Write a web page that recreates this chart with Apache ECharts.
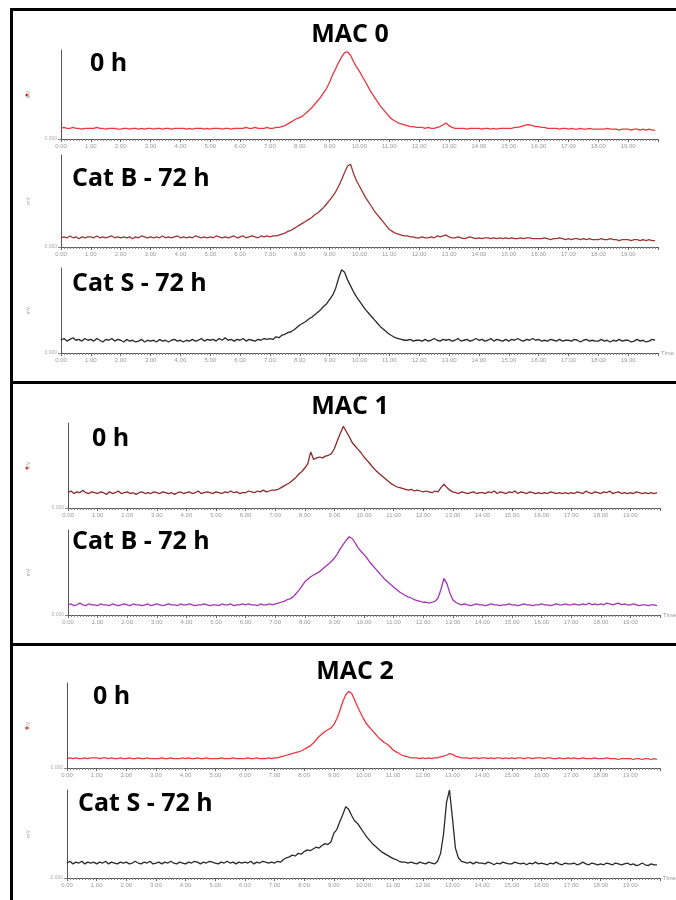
<!DOCTYPE html>
<html>
<head>
<meta charset="utf-8">
<script src="https://cdn.jsdelivr.net/npm/echarts@6/dist/echarts.min.js"></script>
<style>
  html, body { margin: 0; padding: 0; background: #fff; }
  #chart { width: 676px; height: 900px; }
</style>
</head>
<body>
<div id="chart"></div>
<script>
// sampling step of the traces, minutes
var step = 0.1;
var xTicks = ['0.00','1.00','2.00','3.00','4.00','5.00','6.00','7.00','8.00','9.00',
  '10.00','11.00','12.00','13.00','14.00','15.00','16.00','17.00','18.00','19.00'];
var groupTitles = ['MAC 0', 'MAC 1', 'MAC 2'];
var panelLabels = ['0 h', 'Cat B - 72 h', 'Cat S - 72 h', '0 h', 'Cat B - 72 h', '0 h', 'Cat S - 72 h'];

// signal, % of panel height, one row per minute
var mac0_0h = [
  12,13,12,12,13,12,12,11,12,12, 12,12,13,12,12,11,12,12,12,11,
  11,12,12,11,12,12,11,12,11,12, 12,11,12,12,11,12,12,11,12,12,
  12,12,11,12,11,12,12,12,11,12, 11,12,12,12,11,12,12,11,12,12,
  12,12,13,12,12,13,12,12,12,13, 12,12,13,13,14,15,17,19,21,23,
  24,26,29,32,35,39,43,47,52,57, 64,72,79,86,92,97,98,94,87,81,
  76,70,64,58,52,47,42,37,33,29, 25,22,20,18,17,16,15,14,14,13,
  13,13,12,13,12,12,13,14,16,18, 15,13,12,12,12,12,11,12,12,12,
  12,11,12,12,11,12,11,12,12,12, 12,12,13,13,14,15,16,16,15,14,
  14,13,13,12,12,12,12,11,12,12, 11,12,11,11,12,11,11,12,11,11,
  11,11,11,12,11,11,11,10,11,11, 11,10,11,11,10,11,10,11,10,10
];
var mac0_catB = [
  10,11,10,12,10,11,9,11,10,11, 11,10,12,10,11,10,11,12,10,11,
  10,11,10,11,9,11,10,12,11,10, 11,10,11,10,12,10,11,10,11,12,
  10,11,10,11,10,12,11,10,11,10, 11,10,12,11,10,11,10,11,12,10,
  11,12,10,11,12,11,10,12,11,12, 11,12,12,13,14,15,17,18,20,22,
  24,26,28,30,32,35,37,40,43,47, 51,55,60,66,73,81,88,90,80,72,
  66,60,54,49,44,39,35,31,27,23, 19,17,15,14,13,12,12,11,11,10,
  10,11,10,10,11,10,12,11,12,13, 11,10,10,11,10,9,10,11,10,9,
  10,9,10,10,9,10,9,10,9,10, 9,10,9,9,10,9,10,10,9,9,
  9,9,10,9,8,9,9,10,9,8, 9,8,9,9,8,9,8,9,8,8,
  8,9,8,8,9,8,8,7,8,8, 8,7,8,8,7,8,7,8,7,7
];
var mac0_catS = [
  15,17,14,16,18,15,16,14,17,15, 16,14,17,15,13,16,15,17,14,16,
  15,13,16,14,15,13,14,16,13,15, 14,15,13,16,14,15,13,15,16,14,
  15,13,15,14,16,14,15,17,14,16, 15,16,14,17,15,18,15,16,14,16,
  15,17,14,16,15,14,16,15,17,16, 17,16,19,18,21,22,24,25,27,30,
  33,35,37,40,42,45,48,51,55,58, 63,68,76,88,98,95,86,79,72,66,
  61,56,51,47,43,39,35,31,28,25, 22,20,18,17,16,15,15,16,14,15,
  15,14,16,14,15,17,15,14,16,15, 16,14,15,17,14,15,16,14,15,17,
  15,16,14,15,17,14,16,15,14,16, 14,16,15,17,15,14,16,15,17,15,
  16,14,15,14,16,15,14,16,14,15, 15,14,16,15,13,15,16,14,15,14,
  14,16,14,15,13,15,14,16,14,15, 15,13,14,16,14,15,13,14,16,15
];
var mac1_0h = [
  18,20,17,19,18,21,18,17,19,18, 17,19,18,16,19,17,18,20,17,18,
  19,17,18,16,18,19,17,18,17,19, 18,17,19,18,17,18,16,18,19,17,
  18,19,17,18,20,17,18,19,18,17, 19,18,17,19,18,20,18,19,17,18,
  18,20,19,18,20,19,21,19,20,21, 21,22,24,26,28,30,33,36,40,43,
  47,52,66,57,59,60,59,61,62,64, 70,79,88,96,90,84,77,73,69,65,
  60,56,52,48,44,41,38,35,32,29, 27,25,24,23,22,21,22,20,21,20,
  19,20,19,18,20,19,24,28,24,21, 19,18,17,19,18,17,18,19,17,18,
  18,17,19,18,20,17,19,18,17,19, 18,20,17,19,18,17,19,18,17,18,
  17,18,17,19,18,17,18,17,18,17, 18,17,19,18,17,20,18,17,19,18,
  17,19,18,20,17,18,19,17,18,17, 18,17,19,18,17,18,17,18,17,18
];
var mac1_catB = [
  12,13,11,12,14,12,11,13,12,12, 11,13,12,12,11,13,12,11,12,13,
  12,11,13,12,12,11,12,13,11,12, 13,12,11,12,13,12,12,11,13,12,
  12,13,12,11,12,12,13,12,11,12, 12,11,13,12,12,13,11,12,12,13,
  12,13,12,12,11,13,12,12,13,12, 13,14,15,16,18,19,21,25,29,34,
  39,42,45,47,49,51,54,57,60,63, 67,72,78,83,88,92,90,85,79,75,
  71,67,62,58,54,50,46,42,39,36, 33,30,27,25,23,21,20,18,17,16,
  15,15,14,15,16,20,30,43,37,26, 18,15,13,12,13,12,11,12,13,12,
  12,11,12,13,12,12,11,12,12,13, 12,12,11,12,13,12,12,11,12,12,
  13,12,12,11,12,13,12,12,13,12, 12,13,12,12,13,12,14,12,13,12,
  13,12,14,13,12,13,14,12,13,12, 12,13,12,11,12,12,11,12,12,11
];
var mac2_0h = [
  11,12,11,12,11,11,12,11,12,12, 12,11,12,12,11,12,11,11,12,11,
  11,12,11,11,12,11,11,12,11,11, 11,11,12,11,11,12,11,11,11,12,
  11,12,11,11,12,11,11,12,11,11, 11,11,12,11,11,11,12,11,11,11,
  11,12,11,11,12,11,11,11,12,11, 12,12,13,14,15,16,17,18,19,20,
  22,24,26,29,33,37,40,43,45,47, 51,58,67,78,86,90,88,80,72,65,
  58,52,48,44,40,36,33,30,28,25, 21,19,17,15,14,13,12,12,12,11,
  12,11,12,11,12,12,13,14,15,17, 16,14,13,12,12,12,11,12,12,11,
  12,12,11,12,11,12,12,11,12,11, 12,11,12,12,11,12,12,11,12,12,
  12,11,12,12,11,11,12,11,11,12, 11,12,11,11,12,11,11,11,12,11,
  11,11,12,11,11,11,10,11,11,11, 11,10,11,11,10,11,11,10,11,10
];
var mac2_catS = [
  17,19,16,18,17,19,16,18,17,18, 16,18,17,19,16,18,17,16,18,17,
  18,16,17,19,17,16,18,17,19,16, 17,18,16,18,17,19,17,16,18,17,
  16,18,17,19,18,16,18,17,19,18, 17,16,18,17,19,17,18,16,18,17,
  18,17,19,16,18,17,19,18,17,18, 17,19,18,21,23,24,26,25,28,27,
  30,32,31,33,35,34,37,39,38,41, 51,55,64,72,81,78,71,65,62,57,
  52,47,43,39,36,33,30,28,26,24, 22,21,19,18,18,17,18,17,16,18,
  17,16,18,17,16,19,28,50,86,100, 68,34,23,19,18,17,18,16,18,17,
  17,16,18,17,15,17,16,18,17,16, 16,18,17,16,17,15,17,16,18,16,
  17,16,15,17,16,18,16,15,17,16, 16,17,15,16,18,16,15,17,16,15,
  16,15,17,16,15,17,16,15,16,17, 15,16,14,15,17,15,14,16,15,15
];

var traces = [mac0_0h, mac0_catB, mac0_catS, mac1_0h, mac1_catB, mac2_0h, mac2_catS];
var colors = ['#e8383f', '#9e3434', '#2a2a2a', '#8c2a2a', '#a036b4', '#f0343f', '#2a2a2a'];

// panel boxes (axis area) in px
var panels = [
  { left: 61, top: 50,  height: 89, right: 18, time: false, dot: true },
  { left: 61, top: 155, height: 92, right: 18, time: false, dot: false },
  { left: 61, top: 268, height: 85, right: 18, time: true,  dot: false },
  { left: 68, top: 423, height: 85, right: 16, time: false, dot: true },
  { left: 68, top: 530, height: 85, right: 16, time: true,  dot: false },
  { left: 67, top: 683, height: 85, right: 16, time: false, dot: true },
  { left: 67, top: 790, height: 88, right: 16, time: true,  dot: false }
];
var labelPos = [[90, 64], [72, 179], [72, 284], [92, 439], [72, 542], [93, 697], [78, 804]];
var titlePos = [[350, 35], [350, 407], [355, 672]];

var grids = [], xAxes = [], yAxes = [], series = [], graphics = [];

for (var i = 0; i < panels.length; i++) {
  var p = panels[i];
  grids.push({ left: p.left, top: p.top, right: p.right, height: p.height, outerBoundsMode: 'none' });
  xAxes.push({
    type: 'value', gridIndex: i, min: 0, max: 20, interval: 1,
    name: p.time ? 'Time' : '', nameLocation: 'end', nameGap: 3,
    nameTextStyle: { fontSize: 6, color: '#999', fontFamily: 'Liberation Sans' },
    axisLine: { onZero: false, lineStyle: { color: '#555', width: 1 } },
    axisTick: { length: 3, lineStyle: { color: '#666' } },
    minorTick: { show: true, splitNumber: 10, length: 2, lineStyle: { color: '#888' } },
    splitLine: { show: false },
    axisLabel: {
      fontSize: 6, color: '#999', margin: 4, fontFamily: 'Liberation Sans',
      formatter: function (v) { return xTicks[Math.round(v)] || ''; }
    }
  });
  yAxes.push({
    type: 'value', gridIndex: i, min: 0, max: 100, interval: 100,
    name: 'mV', nameLocation: 'middle', nameRotate: 90, nameGap: p.left - 31,
    nameTextStyle: { fontSize: 5, color: '#aaa', fontFamily: 'Liberation Sans' },
    axisLine: { show: true, lineStyle: { color: '#555', width: 1 } },
    axisTick: { show: true, length: 3, customValues: [0], lineStyle: { color: '#888' } },
    splitLine: { show: false },
    axisLabel: {
      fontSize: 5, color: '#aaa', margin: 4, fontFamily: 'Liberation Sans',
      customValues: [0],
      formatter: function (v) { return v === 0 ? '0.000' : ''; }
    }
  });
  var data = traces[i].map(function (v, k) { return [+(k * step).toFixed(1), v]; });
  series.push({
    type: 'line', xAxisIndex: i, yAxisIndex: i, data: data,
    showSymbol: false, symbol: 'none',
    lineStyle: { color: colors[i], width: 1.3 },
    itemStyle: { color: colors[i] }
  });
  if (p.dot) {
    graphics.push({ type: 'circle', shape: { cx: 27, cy: p.top + 45, r: 1.6 }, style: { fill: '#e02020' } });
  }
  graphics.push({
    type: 'text', x: labelPos[i][0], y: labelPos[i][1],
    style: { text: panelLabels[i], font: 'bold 25px "Open Sans"', fill: '#000', verticalAlign: 'middle' }
  });
}

for (var j = 0; j < groupTitles.length; j++) {
  graphics.push({
    type: 'text', x: titlePos[j][0], y: titlePos[j][1],
    style: { text: groupTitles[j], font: 'bold 25px "Open Sans"', fill: '#000', align: 'center', verticalAlign: 'middle' }
  });
}

// frame and dividers
graphics.push({ type: 'rect', shape: { x: 10, y: 8, width: 3, height: 892 }, style: { fill: '#000' } });
graphics.push({ type: 'rect', shape: { x: 10, y: 8, width: 666, height: 3 }, style: { fill: '#000' } });
graphics.push({ type: 'rect', shape: { x: 10, y: 381, width: 666, height: 3 }, style: { fill: '#000' } });
graphics.push({ type: 'rect', shape: { x: 10, y: 643, width: 666, height: 3 }, style: { fill: '#000' } });

var chart = echarts.init(document.getElementById('chart'), null, { renderer: 'canvas' });
chart.setOption({
  animation: false,
  backgroundColor: '#fff',
  grid: grids,
  xAxis: xAxes,
  yAxis: yAxes,
  series: series,
  graphic: graphics
});
</script>
</body>
</html>
